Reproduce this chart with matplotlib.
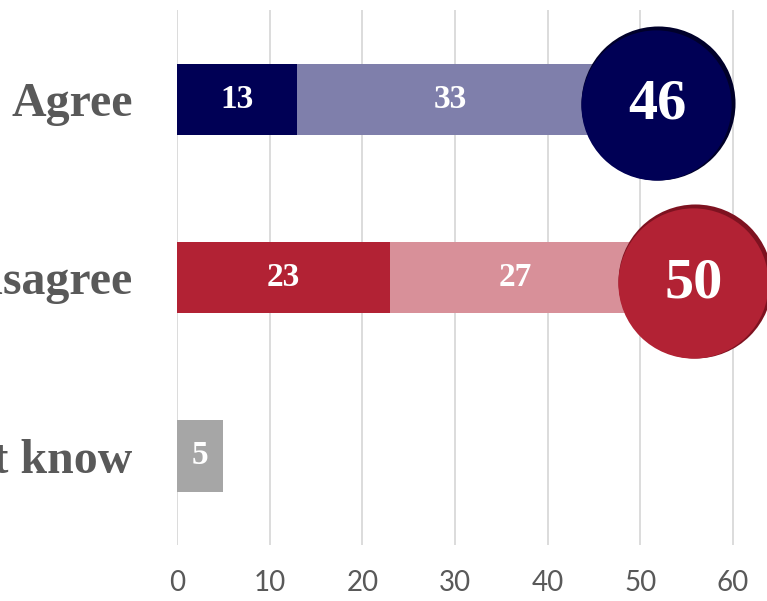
import matplotlib
matplotlib.use("Agg")
import matplotlib.pyplot as plt

categories = ["Agree", "Disagree", "Don't know"]
strong = [13, 23, 5]
somewhat = [33, 27, 0]
totals = [46, 50, None]

dark_colors = ["#000055", "#b22234", "#a6a6a6"]
light_colors = ["#7f7fab", "#d89099", "#d3d3d3"]
edge_colors = ["#00002a", "#7e1220", "#808080"]

W, H = 767, 601
fig = plt.figure(figsize=(W / 100, H / 100), dpi=100)
ax = fig.add_axes([177 / W, (H - 545) / H, (W - 177) / W, 535 / H])
xmax = (W - 177) / 9.267
ax.set_xlim(0, xmax)
ax.set_ylim(2.5, -0.5)

ypos = list(range(len(categories)))
ax.barh(ypos, strong, height=0.4, color=dark_colors, zorder=2)
ax.barh(ypos, somewhat, left=strong, height=0.4, color=light_colors, zorder=2)

lab_font = dict(family="Liberation Serif", weight="bold", color="white")
for i in ypos:
    if strong[i]:
        ax.text(strong[i] / 2, i, str(strong[i]), ha="center", va="center",
                fontsize=24, zorder=3, **lab_font)
    if somewhat[i]:
        ax.text(strong[i] + somewhat[i] / 2, i, str(somewhat[i]), ha="center",
                va="center", fontsize=24, zorder=3, **lab_font)
    if totals[i] is not None:
        cx = totals[i] + 5.8
        cy = i + 0.027
        ax.scatter([cx + 0.15], [cy - 0.006], s=12300, color=edge_colors[i],
                   zorder=4, clip_on=False, linewidths=0)
        ax.scatter([cx - 0.1], [cy + 0.005], s=11700, color=dark_colors[i],
                   zorder=5, clip_on=False, linewidths=0)
        ax.text(cx, cy + 0.005, str(totals[i]), ha="center", va="center",
                fontsize=42, zorder=6, **lab_font)

ax.set_xticks([0, 10, 20, 30, 40, 50, 60])
ax.set_yticks(ypos, categories)
ax.tick_params(axis="x", length=0, pad=18, labelsize=20, labelcolor="#595959")
ax.tick_params(axis="y", length=0, pad=32)
for t in ax.get_xticklabels():
    t.set_family("Lato")
for t in ax.get_yticklabels():
    t.set_family("Liberation Serif")
    t.set_weight("bold")
    t.set_fontsize(34.5)
    t.set_color("#595959")

ax.grid(axis="x", color="#d9d9d9", linewidth=1.3, zorder=0)
ax.set_axisbelow(True)
for s in ax.spines.values():
    s.set_visible(False)

fig.savefig("out.png", dpi=100)
